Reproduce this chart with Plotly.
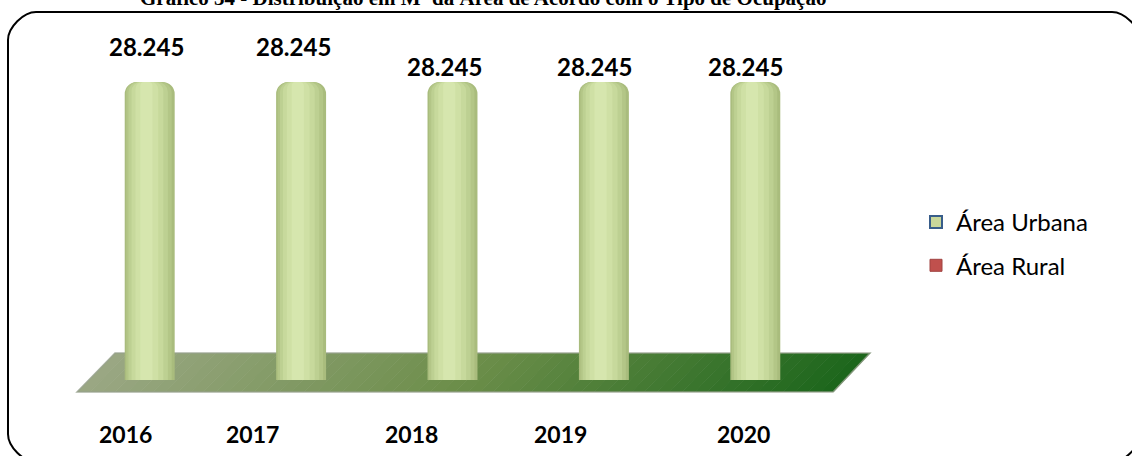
import plotly.graph_objects as go

# ---------------- data ----------------
years = ["2016", "2017", "2018", "2019", "2020"]
area_urbana = [28245, 28245, 28245, 28245, 28245]
area_rural = [0, 0, 0, 0, 0]
value_labels = ["28.245", "28.245", "28.245", "28.245", "28.245"]
title_text = "Gráfico 34 - Distribuição em M² da Área de Acordo com o Tipo de Ocupação"

# ---------------- layout geometry (pixels) ----------------
W_FIG, H_FIG = 1132, 456
L, PW = 74, 757          # plot area left / width
T, PH = 40, 340          # plot area top / height (bottom at 380)


def px(x):
    return (x - L) / PW


def py(y):
    return (T + PH - y) / PH


xs = list(range(len(years)))
# label placement tweaks (style only)
label_xshift = [-3, -8, -8, -9, -10]
label_yshift = [36, 36, 16, 16, 16]
year_xshift = [-24, -49, -41, -43, -12]

fig = go.Figure()

# cylinder-like shading: stacked layers of the same bars (style only)
bar_layers = [
    (0.33, 0.0, "#a9bc7d", 12),
    (0.30, -0.005, "#b3c687", 11),
    (0.26, -0.010, "#bdd092", 10),
    (0.21, -0.015, "#c7d99c", 9),
    (0.15, -0.019, "#cfe0a5", 7),
    (0.08, -0.022, "#d6e6ae", 4),
]
for w, off, col, cr in bar_layers:
    fig.add_trace(go.Bar(
        x=[xv + off for xv in xs], y=area_urbana, name="Área Urbana", width=w,
        marker=dict(color=col, line=dict(width=0), cornerradius=cr),
        showlegend=False, hoverinfo="skip",
    ))
fig.add_trace(go.Bar(
    x=xs, y=area_rural, name="Área Rural", width=0.33,
    marker=dict(color="#c0504d", line=dict(color="#8c3836", width=0)),
    showlegend=False, hoverinfo="skip",
))
# legend entries
fig.add_trace(go.Bar(
    x=[None], y=[None], name="Área Urbana", legendgroup="u",
    marker=dict(color="#c9d79a", line=dict(color="#385d8a", width=2)),
))
fig.add_trace(go.Bar(
    x=[None], y=[None], name="Área Rural", legendgroup="r",
    marker=dict(color="#c0504d", line=dict(color="#a04340", width=1)),
))

shapes = []
# floor (parallelogram with horizontal gradient)
TLx, TRx, BLx, BRx = 115, 870, 77, 833
top_y, bot_y = 353, 392
c_left, c_mid, c_right = (155, 168, 132), (108, 142, 74), (28, 102, 28)
N = 60


def lerp(a, b, t):
    return a + (b - a) * t


for i in range(N):
    t0, t1 = i / N, (i + 1) / N
    tm = (t0 + t1) / 2
    if tm < 0.5:
        c = tuple(int(lerp(c_left[k], c_mid[k], tm / 0.5)) for k in range(3))
    else:
        c = tuple(int(lerp(c_mid[k], c_right[k], (tm - 0.5) / 0.5)) for k in range(3))
    x_t0, x_t1 = lerp(TLx, TRx, t0), lerp(TLx, TRx, t1) + 0.6
    x_b0, x_b1 = lerp(BLx, BRx, t0), lerp(BLx, BRx, t1) + 0.6
    path = (f"M {px(x_t0)},{py(top_y)} L {px(x_t1)},{py(top_y)} "
            f"L {px(x_b1)},{py(bot_y)} L {px(x_b0)},{py(bot_y)} Z")
    shapes.append(dict(type="path", xref="paper", yref="paper", path=path,
                       fillcolor=f"rgb{c}", line=dict(width=0), layer="below"))
# floor outline
shapes.append(dict(type="path", xref="paper", yref="paper", layer="below",
                   path=(f"M {px(TLx)},{py(top_y)} L {px(TRx)},{py(top_y)} "
                         f"L {px(BRx)},{py(bot_y)} L {px(BLx)},{py(bot_y)} Z"),
                   fillcolor="rgba(0,0,0,0)", line=dict(color="rgba(150,160,140,0.8)", width=1.5)))

# rounded border frame
bx0, by0, bx1, by1, r = 8, 12, 1140, 462, 28
k = 0.45 * r
border = (f"M {px(bx0)},{py(by0 + r)} "
          f"C {px(bx0)},{py(by0 + r - k)} {px(bx0 + r - k)},{py(by0)} {px(bx0 + r)},{py(by0)} "
          f"L {px(bx1 - r)},{py(by0)} "
          f"C {px(bx1 - r + k)},{py(by0)} {px(bx1)},{py(by0 + r - k)} {px(bx1)},{py(by0 + r)} "
          f"L {px(bx1)},{py(by1 - r)} "
          f"C {px(bx1)},{py(by1 - r + k)} {px(bx1 - r + k)},{py(by1)} {px(bx1 - r)},{py(by1)} "
          f"L {px(bx0 + r)},{py(by1)} "
          f"C {px(bx0 + r - k)},{py(by1)} {px(bx0)},{py(by1 - r + k)} {px(bx0)},{py(by1 - r)} Z")
shapes.append(dict(type="path", xref="paper", yref="paper", path=border,
                   fillcolor="rgba(0,0,0,0)", line=dict(color="black", width=2), layer="above"))

annotations = []
for i, (v, lab) in enumerate(zip(area_urbana, value_labels)):
    annotations.append(dict(x=xs[i], y=v, xref="x", yref="y", text=f"<b>{lab}</b>",
                            showarrow=False, xshift=label_xshift[i], yshift=label_yshift[i],
                            yanchor="middle", font=dict(family="Lato", size=24, color="black")))
for i, yr in enumerate(years):
    annotations.append(dict(x=xs[i], y=0, xref="x", yref="paper", text=f"<b>{yr}</b>",
                            showarrow=False, xshift=year_xshift[i], yshift=-54,
                            yanchor="middle", font=dict(family="Lato", size=23, color="black")))
annotations.append(dict(x=px(483), y=py(12), xref="paper", yref="paper",
                        text=f"<b>{title_text}</b>", showarrow=False,
                        yanchor="bottom", font=dict(family="Liberation Serif", size=21, color="black")))

fig.update_layout(
    width=W_FIG, height=H_FIG, autosize=False,
    margin=dict(l=L, r=W_FIG - L - PW, t=T, b=H_FIG - T - PH),
    paper_bgcolor="white", plot_bgcolor="rgba(0,0,0,0)",
    barmode="overlay",
    xaxis=dict(range=[-0.5, 4.5], showticklabels=False, showgrid=False, zeroline=False,
               showline=False, ticks=""),
    yaxis=dict(range=[0, 28245 * PH / 298], showticklabels=False, showgrid=False,
               zeroline=False, showline=False, ticks=""),
    legend=dict(x=px(916), y=py(200), xanchor="left", yanchor="top",
                traceorder="grouped", tracegroupgap=9,
                font=dict(family="Lato", size=24, color="black"),
                bgcolor="rgba(0,0,0,0)"),
    shapes=shapes, annotations=annotations,
)

fig.write_html("out.html", config={"displayModeBar": False},
               post_script="document.body.style.margin='0';")
